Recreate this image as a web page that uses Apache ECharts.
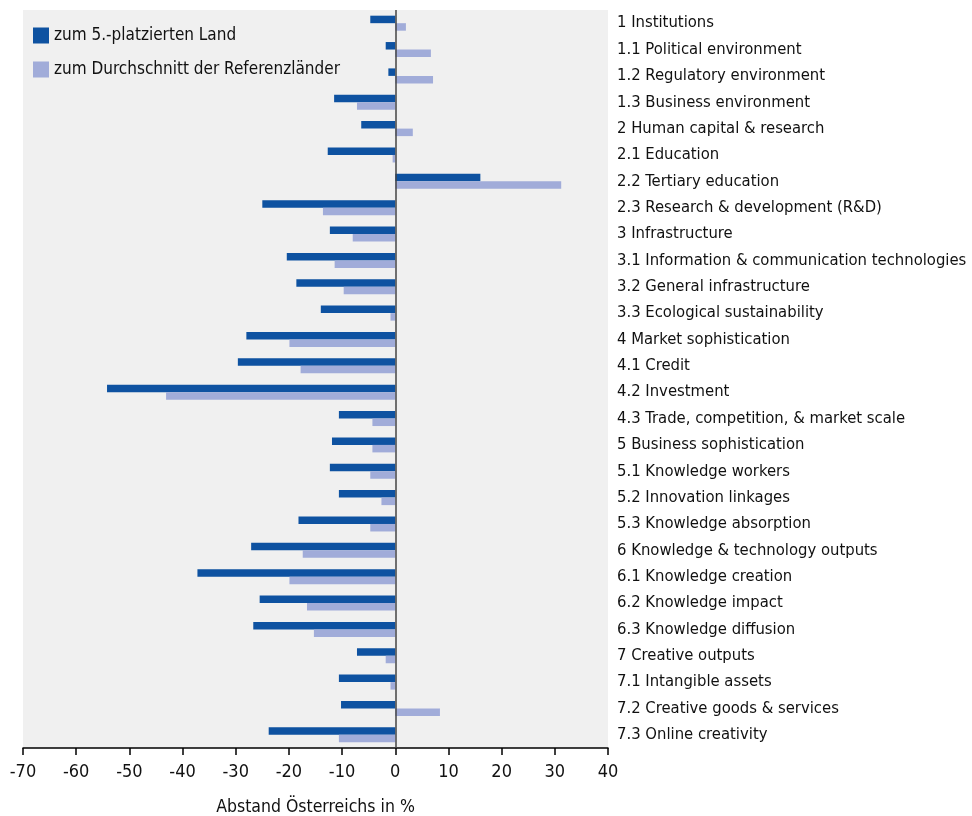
<!DOCTYPE html>
<html><head><meta charset="utf-8">
<script src="https://cdn.jsdelivr.net/npm/echarts@6/dist/echarts.min.js"></script>
<style>html,body{margin:0;padding:0;background:#fff}#c{width:972px;height:816px}</style>
</head><body><div id="c"></div>
<script>
const categories = ["1 Institutions","1.1 Political environment","1.2 Regulatory environment","1.3 Business environment","2 Human capital & research","2.1 Education","2.2 Tertiary education","2.3 Research & development (R&D)","3 Infrastructure","3.1 Information & communication technologies","3.2 General infrastructure","3.3 Ecological sustainability","4 Market sophistication","4.1 Credit","4.2 Investment","4.3 Trade, competition, & market scale","5 Business sophistication","5.1 Knowledge workers","5.2 Innovation linkages","5.3 Knowledge absorption","6 Knowledge & technology outputs","6.1 Knowledge creation","6.2 Knowledge impact","6.3 Knowledge diffusion","7 Creative outputs","7.1 Intangible assets","7.2 Creative goods & services","7.3 Online creativity"];
const fifthPlace = [-4.7,-1.8,-1.3,-11.5,-6.4,-12.7,16.0,-25.0,-12.3,-20.4,-18.6,-14.0,-28.0,-29.6,-54.2,-10.6,-11.9,-12.3,-10.6,-18.2,-27.1,-37.2,-25.5,-26.7,-7.2,-10.6,-10.2,-23.8];
const average = [2.0,6.7,7.1,-7.2,3.3,-0.5,31.2,-13.6,-8.0,-11.4,-9.7,-0.9,-19.9,-17.8,-43.1,-4.3,-4.3,-4.7,-2.6,-4.7,-17.4,-19.9,-16.6,-15.3,-1.8,-0.9,8.4,-10.6];
const seriesNames = ["zum 5.-platzierten Land","zum Durchschnitt der Referenzländer"];
const FONT = "'DejaVu Sans Condensed','Liberation Sans Narrow',sans-serif";
const chart = echarts.init(document.getElementById('c'));
chart.setOption({
  animation:false,
  textStyle:{fontFamily:FONT},
  legend:{orient:'vertical',left:33,top:27,padding:0,itemWidth:16,itemHeight:16,itemGap:17,
    textStyle:{fontFamily:FONT,fontSize:17,color:'#111'},icon:'rect',
    data:seriesNames},
  grid:{left:23,right:364,top:10,bottom:68,show:true,backgroundColor:'#f0f0f0',borderWidth:0,
    containLabel:false,outerBoundsMode:'none'},
  xAxis:{type:'value',min:-70,max:40,interval:10,
    axisLine:{show:true,lineStyle:{color:'#000',width:1.5}},
    axisTick:{show:true,length:7,lineStyle:{color:'#000',width:1.5}},
    splitLine:{show:false},
    axisLabel:{fontFamily:FONT,fontSize:18,color:'#111',margin:15},
    name:'Abstand Österreichs in %',nameLocation:'middle',nameGap:50,
    nameTextStyle:{fontFamily:FONT,fontSize:17.5,color:'#111'}},
  yAxis:{type:'category',data:categories,inverse:true,position:'right',
    axisLine:{show:false},axisTick:{show:false},
    axisLabel:{fontFamily:FONT,fontSize:16.5,color:'#111',margin:9,align:'left'}},
  series:[
    {name:seriesNames[0],type:'bar',data:fifthPlace,barWidth:7.5,barGap:'0%',
      itemStyle:{color:'#0e52a1'},
      markLine:{silent:true,symbol:'none',label:{show:false},
        lineStyle:{color:'#444',width:1.5,type:'solid'},data:[{xAxis:0}]}},
    {name:seriesNames[1],type:'bar',data:average,barWidth:7.5,barGap:'0%',
      itemStyle:{color:'#a1acd9'}}
  ]
});
</script></body></html>
